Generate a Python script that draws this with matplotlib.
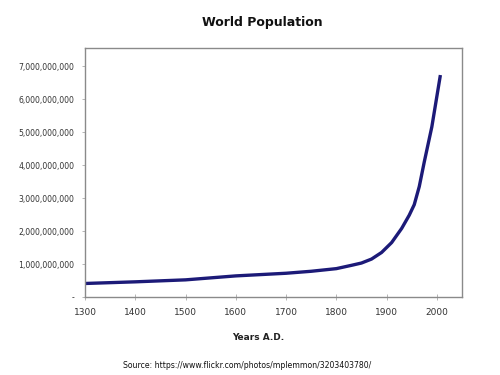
import matplotlib
matplotlib.use("Agg")
import matplotlib.pyplot as plt
from matplotlib.ticker import FuncFormatter

# World population estimates (billions)
years = [1300, 1400, 1500, 1600, 1700, 1750, 1800, 1830, 1850, 1870,
         1890, 1910, 1930, 1945, 1955, 1965, 1975, 1990, 2007]
pop_bn = [0.41, 0.46, 0.52, 0.64, 0.72, 0.78, 0.86, 0.96, 1.03, 1.15,
          1.35, 1.65, 2.08, 2.48, 2.80, 3.35, 4.10, 5.16, 6.73]
x_ticks = [1300, 1400, 1500, 1600, 1700, 1800, 1900, 2000]
y_ticks = [0, 1e9, 2e9, 3e9, 4e9, 5e9, 6e9, 7e9]

population = [p * 1e9 for p in pop_bn]


def _fmt(v, _pos):
    # Excel accounting style: zero shown as a dash
    return "-" if v == 0 else f"{v:,.0f}"


fig = plt.figure(figsize=(5, 3.75), dpi=100)
ax = fig.add_axes([0.17, 0.208, 0.754, 0.664])

ax.plot(years, population, color="#1c1a78", lw=2.4, solid_capstyle="butt")

ax.set_xlim(1300, 2050)
ax.set_ylim(0, 7.55e9)
ax.set_xticks(x_ticks)
ax.set_yticks(y_ticks)
ax.yaxis.set_major_formatter(FuncFormatter(_fmt))

for side in ax.spines.values():
    side.set_color("#8a8a8a")
    side.set_linewidth(1.0)

ax.tick_params(axis="x", direction="inout", length=4, width=0.6,
               colors="#aaaaaa", labelcolor="#333333", labelsize=6.5, pad=6)
ax.tick_params(axis="y", direction="out", length=2.5, width=0.6,
               colors="#aaaaaa", labelcolor="#333333", labelsize=5.6, pad=5)

fig.text(0.524, 0.941, "World Population", ha="center", va="center",
         fontsize=9, fontweight="bold", color="#111111")
fig.text(0.516, 0.099, "Years A.D.", ha="center", va="center",
         fontsize=6.5, fontweight="bold", color="#222222")
fig.text(0.494, 0.024, "Source: https://www.flickr.com/photos/mplemmon/3203403780/",
         ha="center", va="center", fontsize=5.6, color="#111111")

fig.savefig("out.png", dpi=100)
